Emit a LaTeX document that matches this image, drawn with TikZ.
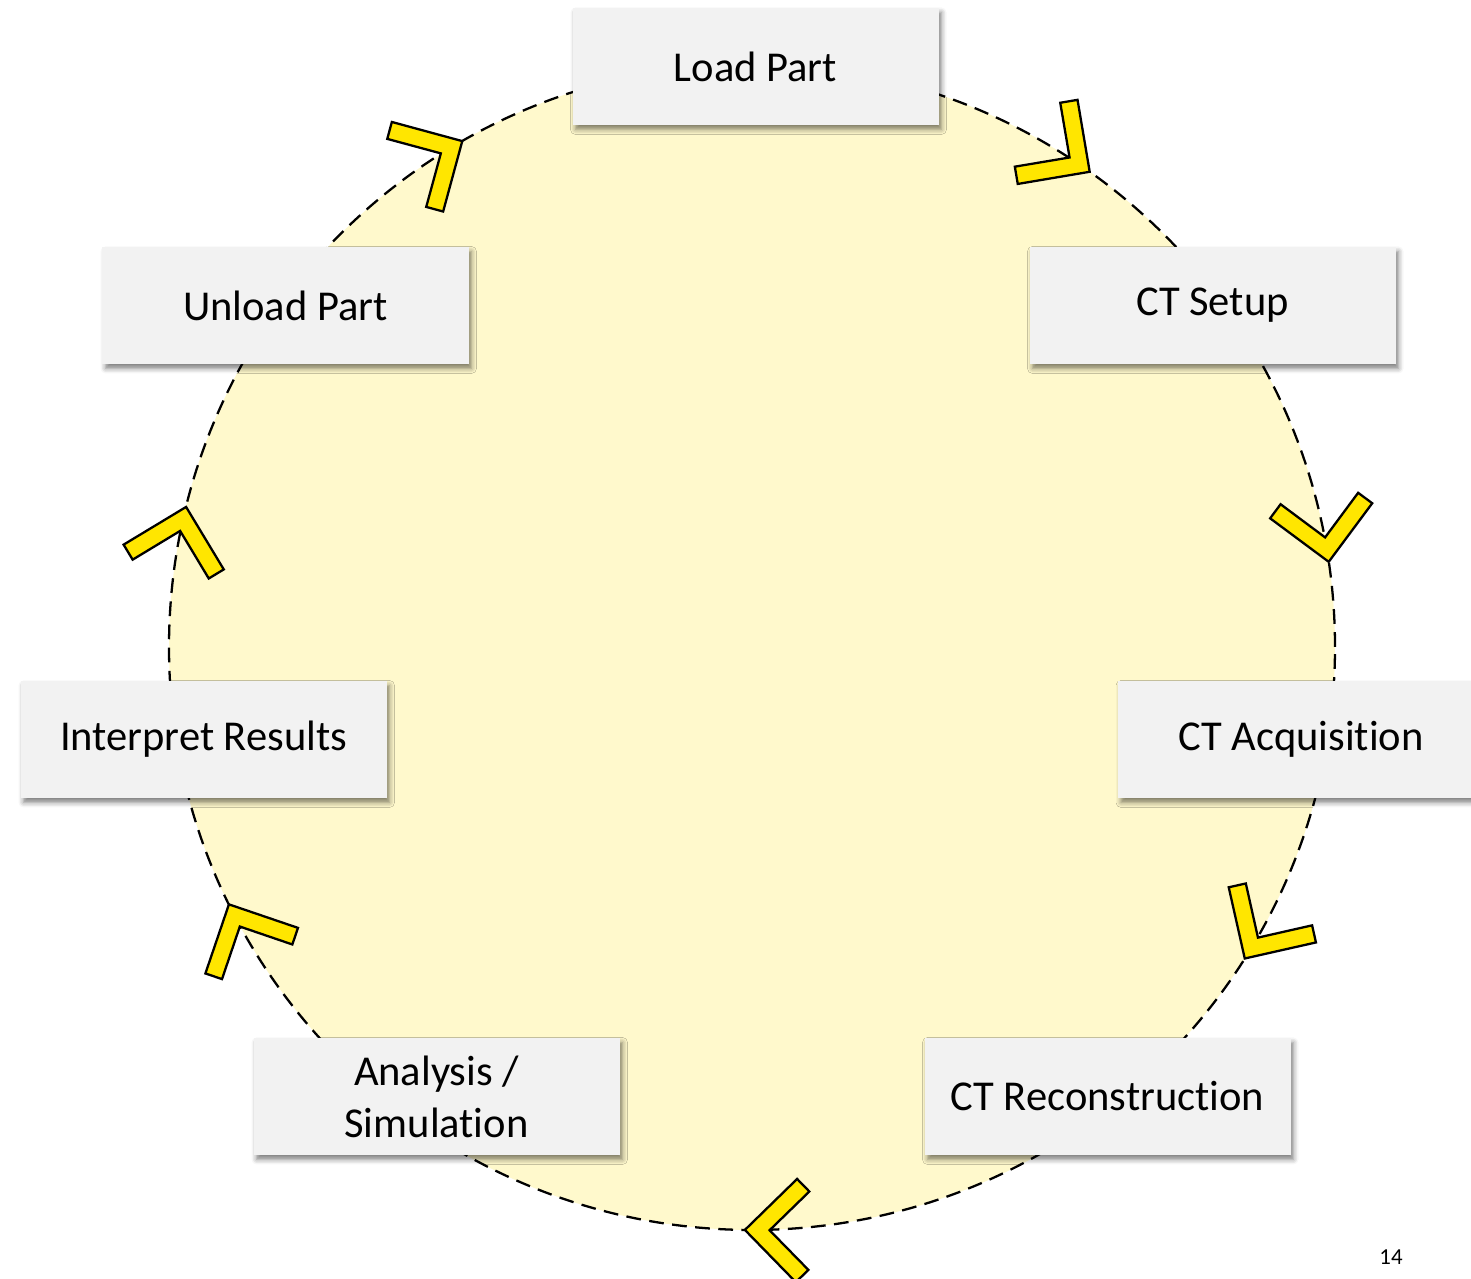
\documentclass[tikz,border=0pt]{standalone}
\usepackage{fontspec}
\setmainfont[Ligatures={NoCommon,NoContextual}]{Carlito}
\usetikzlibrary{shadows.blur}

\definecolor{circfill}{RGB}{255,249,204}
\definecolor{chevfill}{RGB}{255,230,0}
\definecolor{boxfill}{RGB}{242,242,242}

\begin{document}
\begin{tikzpicture}[font=\fontsize{12.1}{14.8}\selectfont,
  bx/.style={fill=boxfill,align=center,minimum width=3.66cm,minimum height=1.17cm,inner sep=0pt,
    blur shadow={shadow xshift=0.3mm,shadow yshift=-0.45mm,shadow blur radius=0.5mm,shadow opacity=50}},
  ring/.style={fill=circfill,line width=0.65pt,dash pattern=on 4.2pt off 2.4pt},
  chev/.pic={\draw[fill=chevfill,line width=0.65pt] (0,0)--(-0.516,0.516)--(-0.640,0.392)--(-0.247,0)--(-0.640,-0.392)--(-0.516,-0.516)--cycle;}]
  \useasboundingbox (0,0) rectangle (14.71,12.79);
  \coordinate (o) at (7.52,6.32);
  \draw[ring] (o) circle (5.83);
  % chevrons along the ring, clockwise
  \path (o) ++(54.6:5.83) pic[rotate=-35.4]{chev};
  \path (o) ++(8.4:5.83) pic[rotate=-81.6]{chev};
  \path (o) ++(-32.3:5.83) pic[rotate=-122.3]{chev};
  \path (o) ++(-90.7:5.83) pic[rotate=-180.7]{chev};
  \path (o) ++(-153.8:5.83) pic[rotate=-243.8]{chev};
  \path (o) ++(166.1:5.83) pic[rotate=76.1]{chev};
  \path (o) ++(119.8:5.83) pic[rotate=29.8]{chev};
  % steps
  \node[bx](load) at (7.555,12.125){Load Part};
  \node[bx](setup) at (12.125,9.735){CT Setup};
  \node[bx](acq) at (13.01,5.395){CT Acquisition};
  \node[bx](recon) at (11.075,1.825){CT Reconstruction};
  \node[bx](anal) at (4.365,1.825){Analysis /\\Simulation};
  \node[bx](interp) at (2.035,5.395){Interpret Results};
  \node[bx](unload) at (2.855,9.735){Unload Part};
  \node[font=\fontsize{6.5}{8}\selectfont](pg) at (13.91,0.22){14};
\end{tikzpicture}
\end{document}
